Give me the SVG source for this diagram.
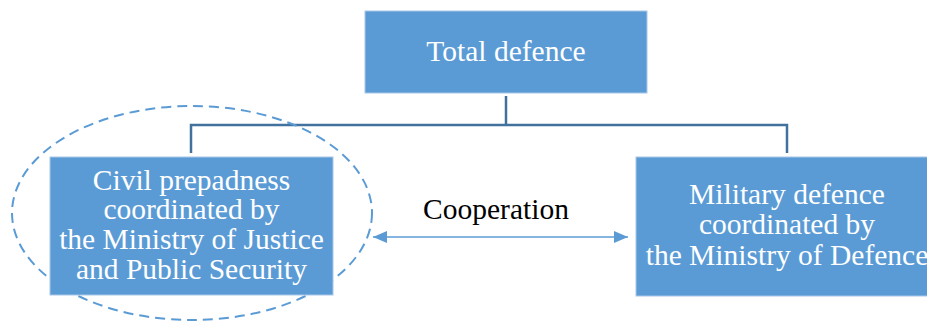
<svg xmlns="http://www.w3.org/2000/svg" width="927" height="322" viewBox="0 0 927 322">
<style>
.box{fill:#5b9bd5;stroke:#a9c8e8;stroke-width:1}
.wt{fill:#ffffff;font-family:"Liberation Serif","Times New Roman",serif;font-size:29.5px;text-anchor:middle}
.bt{fill:#000000;font-family:"Liberation Serif","Times New Roman",serif;font-size:29.5px;text-anchor:middle}
.conn{fill:none;stroke:#41719c;stroke-width:2.5}
.coop{fill:none;stroke:#5b9bd5;stroke-width:1.5}
</style>
<defs>
<marker id="ah" viewBox="0 0 14 12" refX="14" refY="6" markerWidth="14" markerHeight="12" markerUnits="userSpaceOnUse" orient="auto-start-reverse">
<path d="M0,0 L14,6 L0,12 Z" fill="#5b9bd5"/>
</marker>
</defs>
<rect width="927" height="322" fill="#ffffff"/>
<g id="connectors">
<polyline class="conn" points="506,96 506,125"/>
<polyline class="conn" points="191,153 191,125 787,125 787,153"/>
<line class="coop" x1="373" y1="237" x2="628" y2="237" marker-start="url(#ah)" marker-end="url(#ah)"/>
</g>
<g id="civil-ellipse">
<ellipse cx="192" cy="213" rx="180" ry="107" fill="none" stroke="#5b9bd5" stroke-width="2" stroke-dasharray="10 6"/>
</g>
<g id="total-defence">
<rect class="box" x="365" y="11" width="282" height="82"/>
<text class="wt" x="506" y="61">Total defence</text>
</g>
<g id="civil">
<rect class="box" x="50" y="157" width="283" height="138"/>
<text class="wt" x="191.5" y="190">Civil prepadness</text>
<text class="wt" x="191.5" y="219">coordinated by</text>
<text class="wt" x="191.5" y="249">the Ministry of Justice</text>
<text class="wt" x="191.5" y="279">and Public Security</text>
</g>
<g id="military">
<rect class="box" x="636" y="157" width="302" height="139"/>
<text class="wt" x="787" y="204">Military defence</text>
<text class="wt" x="787" y="234">coordinated by</text>
<text class="wt" x="787" y="265">the Ministry of Defence</text>
</g>
<g id="cooperation-label">
<text class="bt" x="496" y="219">Cooperation</text>
</g>
</svg>
